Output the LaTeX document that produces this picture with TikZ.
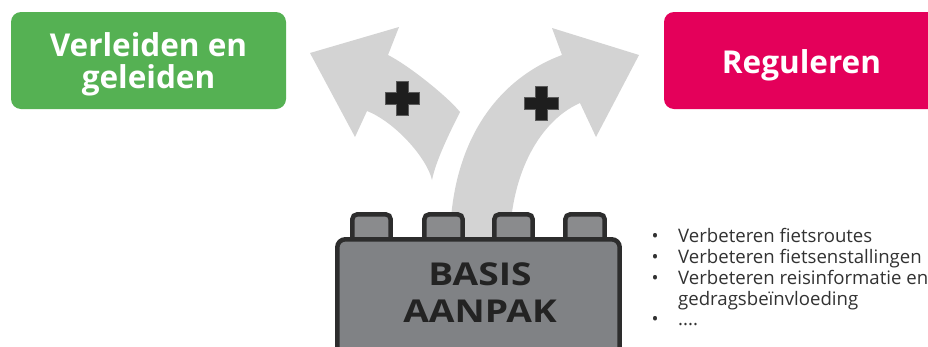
\documentclass[tikz,border=0pt]{standalone}
\usepackage{fontspec}
\setmainfont{Open Sans}
\definecolor{vgreen}{RGB}{85,177,83}
\definecolor{rpink}{RGB}{228,0,90}
\definecolor{arrowgray}{RGB}{211,211,211}
\definecolor{plusdark}{RGB}{30,30,30}
\definecolor{plusedge}{RGB}{90,90,90}
\definecolor{brickline}{RGB}{45,45,45}
\definecolor{brickfill}{RGB}{128,130,133}
\definecolor{studfill}{RGB}{138,139,141}
\definecolor{bricktext}{RGB}{35,35,35}
\definecolor{listtext}{RGB}{50,50,50}
\tikzset{
  panel/.style={rounded corners=10pt, inner sep=0pt, draw=none},
  headtxt/.style={text=white, inner sep=0pt, font=\fontsize{31.5}{32}\selectfont\bfseries},
  bigarrow/.style={fill=arrowgray, draw=none},
  stud/.style={fill=studfill, draw=brickline, line width=4.5pt, rounded corners=5pt},
  brickbody/.style={fill=brickfill, draw=brickline, line width=4.5pt, rounded corners=8pt},
  bricktxt/.style={text=bricktext, inner sep=0pt, font=\fontsize{31.5}{32}\selectfont\bfseries},
  listtxt/.style={text=listtext, inner sep=0pt, font=\fontsize{18.6}{21}\selectfont},
  plussign/.pic={\filldraw[fill=plusdark, draw=plusedge, line width=0.8pt]
    (-17,-6) -- (-6,-6) -- (-6,-17) -- (6,-17) -- (6,-6) -- (17,-6) -- (17,6)
    -- (6,6) -- (6,17) -- (-6,17) -- (-6,6) -- (-17,6) -- cycle;}
}
\begin{document}
\begin{tikzpicture}[x=1pt,y=-1pt]
\useasboundingbox (0,0) rectangle (928,346);
\clip (0,0) rectangle (928,346);
\fill[white] (0,0) rectangle (928,346);

% header panels
\node (greenbox) [panel, fill=vgreen, minimum width=275pt, minimum height=97pt] at (148.5,60.5) {};
\node (greentxta) [headtxt, anchor=base] at (148.5,56) {Verleiden en};
\node (greentxtb) [headtxt, anchor=base] at (148.5,88) {geleiden};
\node (pinkbox) [panel, fill=rpink, minimum width=276pt, minimum height=97pt] at (802,60.5) {};
\node (pinktxt) [headtxt, anchor=base] at (801.5,73) {Reguleren};

% left arrow
\path[bigarrow] (310,53) -- (399,27) -- (388,55)
  .. controls (408,65) and (447,96) .. (460,112)
  .. controls (450,132) and (436,160) .. (432,180)
  .. controls (427,158) and (395,122) .. (367,111)
  -- (355,137) -- cycle;
% right arrow
\path[bigarrow] (639,55) -- (552,28) -- (562,55)
  .. controls (500,78) and (448,140) .. (450,250)
  -- (510,250)
  .. controls (508,180) and (537,122) .. (580,103)
  -- (596,137) -- cycle;

\pic at (402,98) {plussign};
\pic at (541,103) {plussign};

% brick
\path[stud] (352.3,214.3) rectangle (390.7,245);
\path[stud] (424.3,214.3) rectangle (462.7,245);
\path[stud] (494.3,214.3) rectangle (532.7,245);
\path[stud] (565.3,214.3) rectangle (604.7,245);
\path[brickbody] (337.3,239.3) rectangle (619.7,370);
\node (basis) [bricktxt, anchor=base] at (480,285) {\scalebox{1.18}[1]{BASIS}};
\node (aanpak) [bricktxt, anchor=base] at (480,322) {\scalebox{1.18}[1]{AANPAK}};

% list
\node (d1) [listtxt, anchor=base] at (655,242) {•};
\node (l1) [listtxt, anchor=base west] at (678,242) {Verbeteren fietsroutes};
\node (d2) [listtxt, anchor=base] at (655,263) {•};
\node (l2) [listtxt, anchor=base west] at (678,263) {Verbeteren fietsenstallingen};
\node (d3) [listtxt, anchor=base] at (655,284) {•};
\node (l3) [listtxt, anchor=base west] at (678,284) {Verbeteren reisinformatie en};
\node (l4) [listtxt, anchor=base west] at (678,305) {gedragsbeïnvloeding};
\node (d5) [listtxt, anchor=base] at (655,325) {•};
\node (l5) [listtxt, anchor=base west] at (678,325) {....};
\end{tikzpicture}
\end{document}
